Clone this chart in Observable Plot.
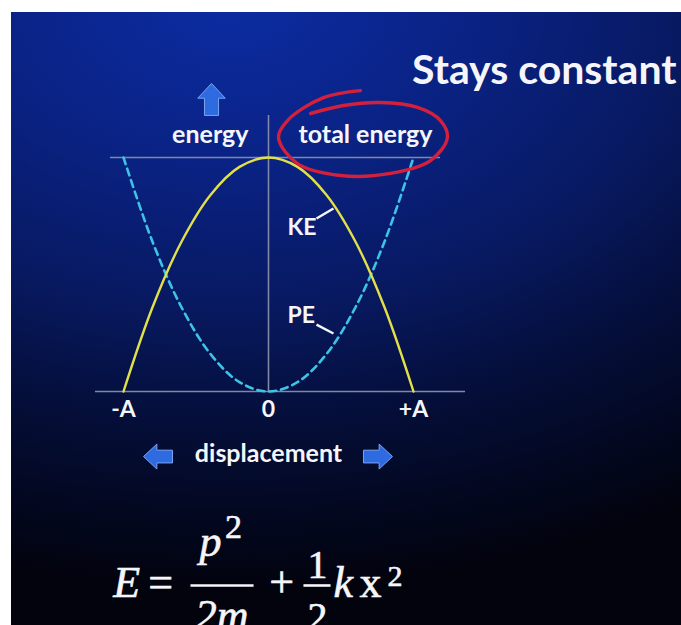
<!DOCTYPE html>
<html>
<head>
<meta charset="utf-8">
<script src="https://cdn.jsdelivr.net/npm/d3@7"></script>
<script src="https://cdn.jsdelivr.net/npm/@observablehq/plot@0.6"></script>
<style>
  html, body { margin: 0; padding: 0; background: #fff; }
  #chart { width: 681px; height: 625px; }
  g[aria-label="headline"] text { filter: drop-shadow(2px 2px 1.5px rgba(0, 0, 0, 0.7)); }
</style>
</head>
<body>
<div id="chart"></div>
<script>
// Displacement across one oscillation, in units of the amplitude A
const displacement = [-1, -0.8, -0.6, -0.4, -0.2, 0, 0.2, 0.4, 0.6, 0.8, 1];
// Kinetic and potential energy as fractions of the total energy
const kineticEnergy   = [0, 0.36, 0.64, 0.84, 0.96, 1, 0.96, 0.84, 0.64, 0.36, 0];
const potentialEnergy = [1, 0.64, 0.36, 0.16, 0.04, 0, 0.04, 0.16, 0.36, 0.64, 1];
const totalEnergy = 1;

// Axis tick labels along displacement
const tickPositions = [-1, 0, 1];
const tickLabels = ["-A", "0", "+A"];

// Hand-drawn loop around the "total energy" label
const loopX = [0.634, 0.379, 0.131, 0.069, 0.2, 0.497, 0.841, 1.117, 1.234, 1.186, 1.028, 0.772, 0.517, 0.29];
const loopY = [1.286, 1.256, 1.158, 1.085, 0.974, 0.923, 0.932, 0.987, 1.085, 1.158, 1.214, 1.235, 1.222, 1.188];

const rows = displacement.map((x, i) => ({x, ke: kineticEnergy[i], pe: potentialEnergy[i]}));
const loop = loopX.map((x, i) => ({x, y: loopY[i]}));
const ticks = tickPositions.map((x, i) => ({x, label: tickLabels[i]}));

// Block arrow drawn as a dot symbol, pointing up before rotation
const blockArrow = {
  draw(context, size) {
    const r = Math.sqrt(size / Math.PI);
    context.moveTo(0, -r);
    context.lineTo(0.86 * r, -0.08 * r);
    context.lineTo(0.44 * r, -0.08 * r);
    context.lineTo(0.44 * r, r);
    context.lineTo(-0.44 * r, r);
    context.lineTo(-0.44 * r, -0.08 * r);
    context.lineTo(-0.86 * r, -0.08 * r);
    context.closePath();
  }
};
const arrows = [
  {x: -0.393, y: 1.248, r: 16, rotate: 0},
  {x: -0.762, y: -0.278, r: 14.5, rotate: -90},
  {x: 0.755, y: -0.278, r: 14.5, rotate: 90}
];

const labelFont = {fontFamily: "Lato", fontWeight: "bold", fill: "#f6f6fa"};
const mathFont = {fontFamily: "Liberation Serif", fill: "#f6f6fa", stroke: "#f6f6fa", strokeWidth: 0.6, lineAnchor: "bottom"};
const axisGray = "#8088a6";

const background = [
  "linear-gradient(#fff, #fff) 0 0 / 11px 100% no-repeat",
  "linear-gradient(#fff, #fff) 0 0 / 100% 12px no-repeat",
  "radial-gradient(ellipse 880px 590px at 230px 0px, #0c2ca2 0%, #0a2387 25%, #081a64 50%, #040d35 74%, #02030d 100%)"
].join(", ");

const chart = Plot.plot({
  width: 681,
  height: 625,
  margin: 0,
  x: {domain: [-1, 1], range: [123, 413], axis: null},
  y: {domain: [0, 1], range: [391, 157], axis: null},
  r: {type: "identity"},
  style: {background, overflow: "hidden"},
  marks: [
    // axes and total-energy level
    Plot.ruleY([0], {x1: -1.193, x2: 1.359, stroke: axisGray, strokeWidth: 1.6}),
    Plot.ruleY([totalEnergy], {x1: -1.09, x2: 1.186, stroke: axisGray, strokeWidth: 1.6}),
    Plot.ruleX([0], {y1: 0, y2: 1.18, stroke: axisGray, strokeWidth: 1.6}),
    // energy curves
    Plot.line(rows, {x: "x", y: "pe", curve: "catmull-rom", stroke: "#3cc3e6", strokeWidth: 2.6, strokeDasharray: "7,5"}),
    Plot.line(rows, {x: "x", y: "ke", curve: "catmull-rom", stroke: "#e2e04a", strokeWidth: 2.4}),
    // loop around the total-energy label
    Plot.line(loop, {x: "x", y: "y", curve: "catmull-rom", stroke: "#d3203c", strokeWidth: 3.4, strokeLinecap: "round"}),
    // curve labels with leaders
    Plot.link([{x1: 0.331, y1: 0.739, x2: 0.448, y2: 0.782}, {x1: 0.331, y1: 0.286, x2: 0.448, y2: 0.248}],
      {x1: "x1", y1: "y1", x2: "x2", y2: "y2", stroke: "#f6f6fa", strokeWidth: 2.4}),
    Plot.text(["KE"], {x: 0.131, y: 0.667, text: d => d, textAnchor: "start", lineAnchor: "bottom", fontSize: 23, ...labelFont}),
    Plot.text(["PE"], {x: 0.131, y: 0.291, text: d => d, textAnchor: "start", lineAnchor: "bottom", fontSize: 23, ...labelFont}),
    // axis titles and ticks
    Plot.text(["energy"], {x: -0.138, y: 1.06, text: d => d, textAnchor: "end", lineAnchor: "bottom", fontSize: 25, ...labelFont}),
    Plot.text(["total energy"], {x: 0.207, y: 1.06, text: d => d, textAnchor: "start", lineAnchor: "bottom", fontSize: 25, ...labelFont}),
    Plot.text(ticks, {x: "x", y: -0.111, text: "label", lineAnchor: "bottom", fontSize: 23, ...labelFont}),
    Plot.text(["displacement"], {x: 0, y: -0.303, text: d => d, lineAnchor: "bottom", fontSize: 25, ...labelFont}),
    Plot.dot(arrows, {x: "x", y: "y", r: "r", rotate: "rotate", symbol: blockArrow, fill: "#2e6ae0", stroke: "#79a4f2", strokeWidth: 1}),
    // headline
    Plot.text(["Stays constant"], {x: 2.814, y: 1.316, text: d => d, textAnchor: "end", lineAnchor: "bottom", fontSize: 41, ariaLabel: "headline", ...labelFont}),
    // energy equation  E = p²/2m + ½ k x²
    Plot.text(["E"], {x: -1.07, y: -0.88, text: d => d, textAnchor: "start", fontSize: 44, fontStyle: "italic", ...mathFont}),
    Plot.text(["="], {x: -0.83, y: -0.88, text: d => d, textAnchor: "start", fontSize: 44, ...mathFont}),
    Plot.text(["p"], {x: -0.476, y: -0.705, text: d => d, textAnchor: "start", fontSize: 44, fontStyle: "italic", ...mathFont}),
    Plot.text(["2"], {x: -0.30, y: -0.624, text: d => d, textAnchor: "start", fontSize: 34, ...mathFont}),
    Plot.text(["2m"], {x: -0.324, y: -1.021, text: d => d, fontSize: 44, fontStyle: "italic", ...mathFont}),
    Plot.text(["+"], {x: 0.09, y: -0.88, text: d => d, fontSize: 44, ...mathFont}),
    Plot.text(["1"], {x: 0.338, y: -0.795, text: d => d, fontSize: 40, ...mathFont}),
    Plot.text(["2"], {x: 0.338, y: -1.021, text: d => d, fontSize: 40, ...mathFont}),
    Plot.text(["k"], {x: 0.448, y: -0.88, text: d => d, textAnchor: "start", fontSize: 44, fontStyle: "italic", ...mathFont}),
    Plot.text(["x"], {x: 0.628, y: -0.88, text: d => d, textAnchor: "start", fontSize: 44, ...mathFont}),
    Plot.text(["2"], {x: 0.82, y: -0.83, text: d => d, textAnchor: "start", fontSize: 30, ...mathFont}),
    Plot.link([{x1: -0.538, x2: -0.103}, {x1: 0.241, x2: 0.428}],
      {x1: "x1", x2: "x2", y1: -0.829, y2: -0.829, stroke: "#f6f6fa", strokeWidth: 2.6})
  ]
});

document.getElementById("chart").append(chart);
</script>
</body>
</html>
